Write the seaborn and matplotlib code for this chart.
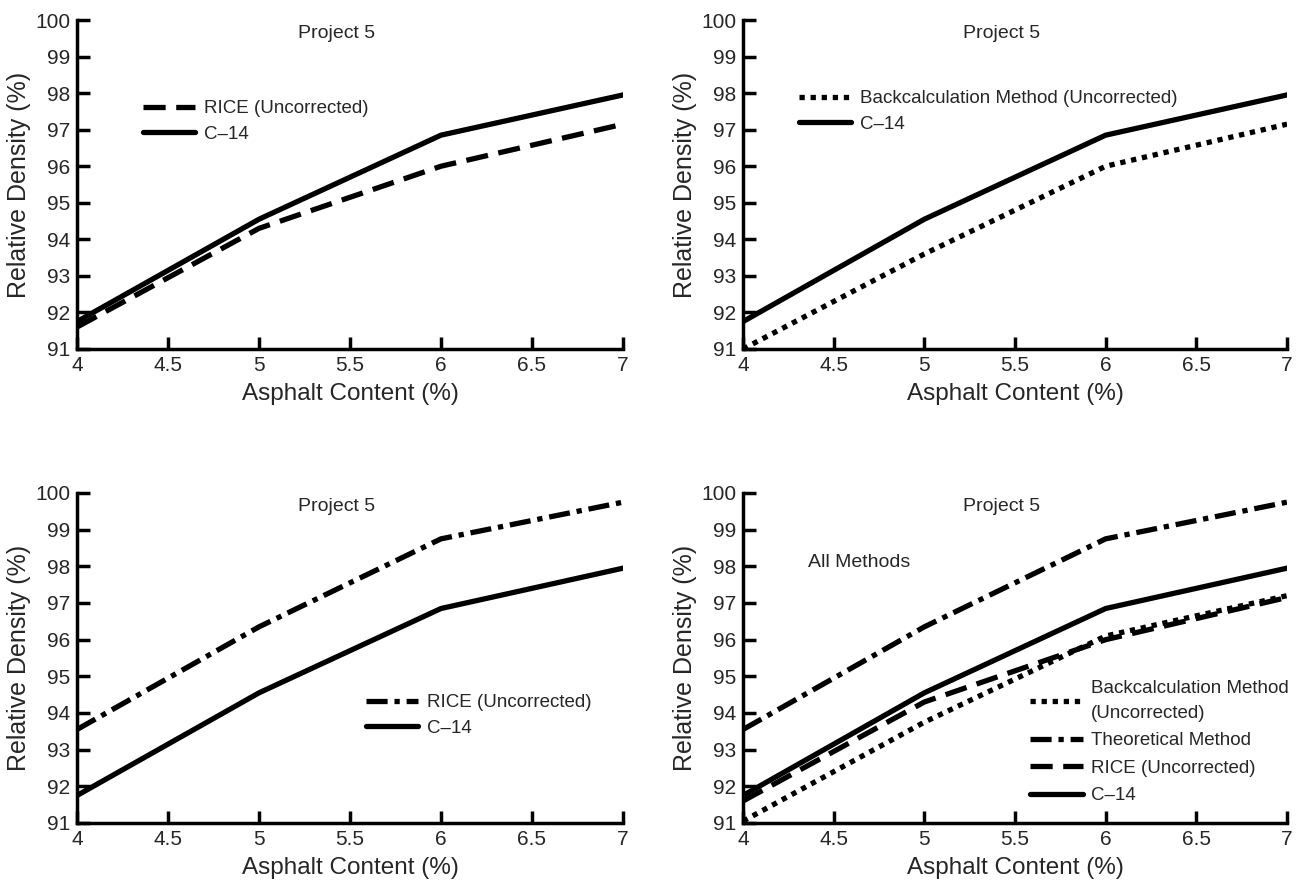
import matplotlib
matplotlib.use("Agg")
import matplotlib.pyplot as plt
import seaborn as sns
import pandas as pd

asphalt = [4, 5, 6, 7]
c14 = [91.75, 94.55, 96.85, 97.95]
rice = [91.6, 94.3, 96.0, 97.15]
backcalc = [91.0, 93.6, 96.0, 97.15]
backcalc_all = [91.05, 93.75, 96.1, 97.2]
theoretical = [93.55, 96.35, 98.75, 99.75]

xticks = [4, 4.5, 5, 5.5, 6, 6.5, 7]
xticklabels = ["4", "4.5", "5", "5.5", "6", "6.5", "7"]
yticks = list(range(91, 101))

sns.set_style("ticks")
plt.rcParams['font.family'] = ['Liberation Sans', 'DejaVu Sans']

fig = plt.figure(figsize=(13.01, 8.86), dpi=100)
W, H = 1301, 886

def make_ax(l, r, t, b):
    return fig.add_axes([l / W, 1 - b / H, (r - l) / W, (b - t) / H])

ax1 = make_ax(77, 623, 20, 349)
ax2 = make_ax(743, 1287, 20, 349)
ax3 = make_ax(77, 623, 493, 823)
ax4 = make_ax(743, 1287, 493, 823)

styles = {
    "C-14": "-",
    "RICE": (0, (4.2, 2.0)),
    "Backcalc": (0, (1.0, 1.1)),
    "Theoretical": (0, (4.0, 1.3, 1.0, 1.3)),
}

def draw(ax, y, label, style):
    df = pd.DataFrame({"x": asphalt, "y": y})
    sns.lineplot(data=df, x="x", y="y", ax=ax, color="black", lw=3.8,
                 label=label, linestyle=styles[style], dash_capstyle="butt")

def finish(ax):
    ax.set_xlim(4, 7)
    ax.set_ylim(91, 100)
    ax.set_xticks(xticks)
    ax.set_xticklabels(xticklabels)
    ax.set_yticks(yticks)
    ax.tick_params(direction="in", length=9, width=2.5, labelsize=15, pad=5, color="black")
    for s in ["top", "right"]:
        ax.spines[s].set_visible(False)
    for s in ["left", "bottom"]:
        ax.spines[s].set_linewidth(2.5)
        ax.spines[s].set_color("black")
    ax.set_xlabel("Asphalt Content (%)", fontsize=17.5, labelpad=6)
    ax.set_ylabel("Relative Density (%)", fontsize=18, labelpad=3)
    ax.text(0.476, 0.985, "Project 5", transform=ax.transAxes, ha="center", va="top", fontsize=14)

leg_kw = dict(frameon=False, fontsize=13.5, handlelength=2.8, handletextpad=0.45,
              borderaxespad=0.2, labelspacing=0.45)

# Panel 1
draw(ax1, rice, "RICE (Uncorrected)", "RICE")
draw(ax1, c14, "C\u201314", "C-14")
finish(ax1)
ax1.legend(loc="upper left", bbox_to_anchor=(0.1, 0.791), **leg_kw)

# Panel 2
draw(ax2, backcalc, "Backcalculation Method (Uncorrected)", "Backcalc")
draw(ax2, c14, "C\u201314", "C-14")
finish(ax2)
ax2.legend(loc="upper left", bbox_to_anchor=(0.082, 0.821), **leg_kw)

# Panel 3
draw(ax3, theoretical, "RICE (Uncorrected)", "Theoretical")
draw(ax3, c14, "C\u201314", "C-14")
finish(ax3)
ax3.legend(loc="upper left", bbox_to_anchor=(0.508, 0.424), **leg_kw)

# Panel 4
draw(ax4, backcalc_all, "Backcalculation Method\n(Uncorrected)", "Backcalc")
draw(ax4, theoretical, "Theoretical Method", "Theoretical")
draw(ax4, rice, "RICE (Uncorrected)", "RICE")
draw(ax4, c14, "C\u201314", "C-14")
finish(ax4)
ax4.text(0.12, 0.79, "All Methods", transform=ax4.transAxes, ha="left", va="center", fontsize=14)
leg4_kw = dict(leg_kw)
leg4_kw["labelspacing"] = 0.55
leg4 = ax4.legend(loc="upper left", bbox_to_anchor=(0.507, 0.467), **leg4_kw)
for t in leg4.get_texts():
    t.set_linespacing(1.6)

fig.savefig("out.png", dpi=100)
